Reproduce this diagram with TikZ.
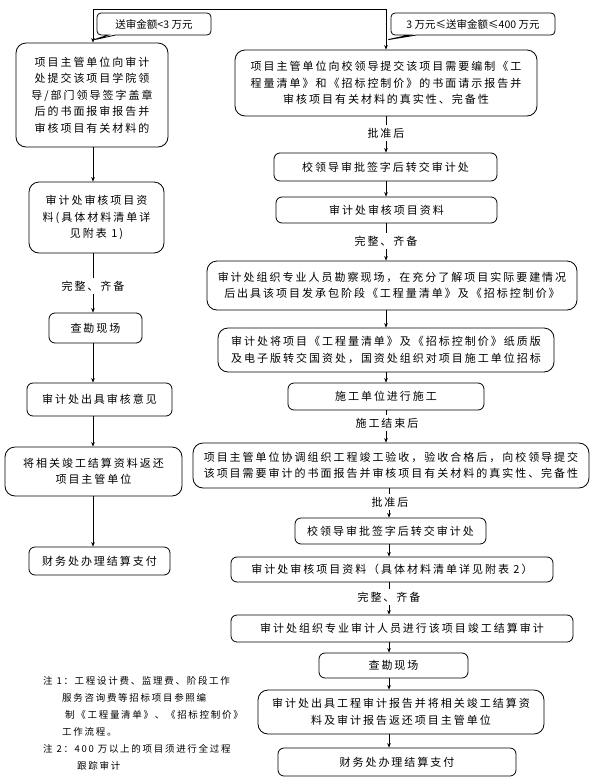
\documentclass[tikz,border=0pt]{standalone}
\usepackage{fontspec}
\setmainfont[LetterSpace=18]{Noto Sans CJK SC}
\newfontfamily\plainfont{Noto Sans CJK SC}
\usetikzlibrary{arrows.meta,shapes.callouts}
\begin{document}
\begin{tikzpicture}[x=1pt,y=-1pt,
  box/.style={draw, rounded corners=6pt, line width=0.8pt, align=center, inner sep=0pt,
    font=\fontsize{11}{16.5}\selectfont},
  tallbox/.style={box, rounded corners=10pt},
  arr/.style={-{Stealth[length=4.5pt,width=3.6pt]}, line width=0.7pt},
  conn/.style={line width=0.7pt},
  lab/.style={inner sep=3pt, font=\fontsize{11}{13}\selectfont},
  callbox/.style={rectangle callout, draw, line width=0.8pt, rounded corners=4pt, inner sep=0pt,
    font=\plainfont\fontsize{10.5}{12}\selectfont},
  note/.style={anchor=west, inner sep=0pt, font=\fontsize{9.5}{11}\selectfont}]
\useasboundingbox (0,0) rectangle (594,780);

% column guides
\coordinate (xL) at (93,0);
\coordinate (xR) at (386,0);
\coordinate (xS) at (389,0);
\coordinate (tL) at (93,9);
\coordinate (tR) at (386,9);
\coordinate (pL) at (93,40);
\coordinate (pR) at (386,40);

% left column
\node[tallbox, minimum width=152pt, minimum height=104pt] (L1) at (92,95)
  {项目主管单位向审计\\处提交该项目学院领\\导/部门领导签字盖章\\后的书面报审报告并\\审核项目有关材料的};
\node[tallbox, minimum width=135pt, minimum height=71pt] (L2) at (96.5,217.5)
  {审计处审核项目资\\料(具体材料清单详\\见附表 1)};
\node[box, minimum width=93pt, minimum height=30pt] (L3) at (95.5,328) {查勘现场};
\node[box, minimum width=145pt, minimum height=33pt] (L4) at (99.5,399.5) {审计处出具审核意见};
\node[tallbox, minimum width=177pt, minimum height=49pt] (L5) at (93.5,471.5)
  {将相关竣工结算资料返还\\项目主管单位};
\node[box, minimum width=141pt, minimum height=28pt] (L6) at (99.5,561) {财务处办理结算支付};
\node[lab] (la1) at (93,286) {完整、齐备};

% right column
\node[tallbox, minimum width=302pt, minimum height=66pt] (R1) at (386,83)
  {项目主管单位向校领导提交该项目需要编制《工\\程量清单》和《招标控制价》的书面请示报告并\\审核项目有关材料的真实性、完备性};
\node[box, minimum width=223pt, minimum height=28pt] (R2) at (385.5,167) {校领导审批签字后转交审计处};
\node[box, minimum width=221pt, minimum height=26pt] (R3) at (386.5,210) {审计处审核项目资料};
\node[tallbox, minimum width=370pt, minimum height=49pt] (R4) at (392,285.5)
  {审计处组织专业人员勘察现场，在充分了解项目实际要建情况\\后出具该项目发承包阶段《工程量清单》及《招标控制价》};
\node[tallbox, minimum width=336pt, minimum height=44pt] (R5) at (386,350)
  {审计处将项目《工程量清单》及《招标控制价》纸质版\\及电子版转交国资处，国资处组织对项目施工单位招标};
\node[box, minimum width=196pt, minimum height=27pt] (R6) at (386,396.5) {施工单位进行施工};
\node[tallbox, minimum width=396pt, minimum height=45pt] (R7) at (391,465.5)
  {项目主管单位协调组织工程竣工验收，验收合格后，向校领导提交\\该项目需要审计的书面报告并审核项目有关材料的真实性、完备性};
\node[box, minimum width=191pt, minimum height=26pt] (R8) at (390.5,531) {校领导审批签字后转交审计处};
\node[box, minimum width=322pt, minimum height=25pt] (R9) at (392,569.5) {审计处审核项目资料（具体材料清单详见附表 2）};
\node[box, minimum width=342pt, minimum height=27pt] (R10) at (402,628.5) {审计处组织专业审计人员进行该项目竣工结算审计};
\node[box, minimum width=149pt, minimum height=25pt] (R11) at (393.5,665.5) {查勘现场};
\node[tallbox, minimum width=286pt, minimum height=44pt] (R12) at (401,712)
  {审计处出具工程审计报告并将相关竣工结算资\\料及审计报告返还项目主管单位};
\node[box, minimum width=238pt, minimum height=28pt] (R13) at (397,762) {财务处办理结算支付};

\node[lab] (ra1) at (386,133) {批准后};
\node[lab] (ra2) at (386,241) {完整、齐备};
\node[lab] (ra3) at (387,423) {施工结束后};
\node[lab] (ra4) at (390,502) {批准后};
\node[lab] (ra5) at (389,597) {完整、齐备};

% callouts
\node[callbox, minimum width=114pt, minimum height=22pt, callout absolute pointer={(pL)}] (cL) at (154,24) {送审金额<3 万元};
\node[callbox, minimum width=164pt, minimum height=22pt, callout absolute pointer={(pR)}] (cR) at (473,24) {3 万元≤送审金额≤400 万元};

% top split connector
\draw[arr] (tL) -- (L1.north -| tL);
\draw[arr] (tL) -- (tR) -- (R1.north -| tR);

% left connectors
\draw[arr] (L1.south -| xL) -- (L2.north -| xL);
\draw[conn] (L2.south -| xL) -- (la1.north -| xL);
\draw[arr] (la1.south -| xL) -- (L3.north -| xL);
\draw[arr] (L3.south -| xL) -- (L4.north -| xL);
\draw[arr] (L4.south -| xL) -- (L5.north -| xL);
\draw[arr] (L5.south -| xL) -- (L6.north -| xL);

% right connectors
\draw[conn] (R1.south -| xR) -- (ra1.north -| xR);
\draw[arr] (ra1.south -| xR) -- (R2.north -| xR);
\draw[arr] (R2.south -| xR) -- (R3.north -| xR);
\draw[conn] (R3.south -| xR) -- (ra2.north -| xR);
\draw[arr] (ra2.south -| xR) -- (R4.north -| xR);
\draw[arr] (R4.south -| xR) -- (R5.north -| xR);
\draw[arr] (R5.south -| xR) -- (R6.north -| xR);
\draw[conn] (R6.south -| xR) -- (ra3.north -| xR);
\draw[arr] (ra3.south -| xR) -- (R7.north -| xR);
\draw[conn] (R7.south -| xS) -- (ra4.north -| xS);
\draw[arr] (ra4.south -| xS) -- (R8.north -| xS);
\draw[arr] (R8.south -| xS) -- (R9.north -| xS);
\draw[conn] (R9.south -| xS) -- (ra5.north -| xS);
\draw[arr] (ra5.south -| xS) -- (R10.north -| xS);
\draw[arr] (R10.south -| xS) -- (R11.north -| xS);
\draw[arr] (R11.south -| xS) -- (R12.north -| xS);
\draw[arr] (R12.south -| xS) -- (R13.north -| xS);

% notes
\node[note] (n1) at (43,681) {注 1：工程设计费、监理费、阶段工作};
\node[note] (n2) at (62,698) {服务咨询费等招标项目参照编};
\node[note] (n3) at (65,715) {制《工程量清单》、《招标控制价》};
\node[note] (n4) at (62,732) {工作流程。};
\node[note] (n5) at (43,749) {注 2：400 万以上的项目须进行全过程};
\node[note] (n6) at (77,766) {跟踪审计};
\end{tikzpicture}
\end{document}
